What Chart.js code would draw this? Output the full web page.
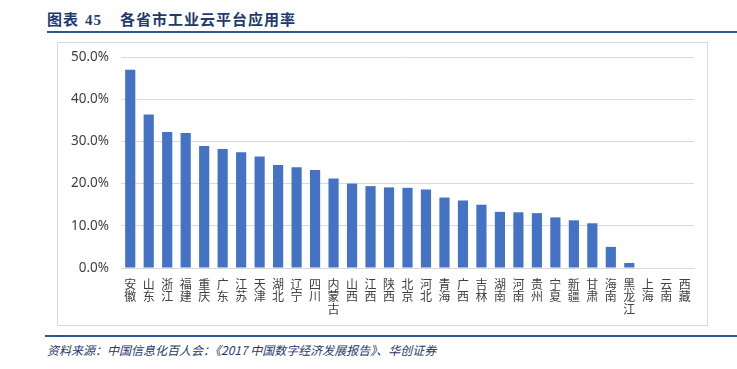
<!DOCTYPE html>
<html>
<head>
<meta charset="utf-8">
<script src="https://cdn.jsdelivr.net/npm/chart.js@4"></script>
<style>
  body { margin: 0; background: #fff; width: 737px; height: 369px; position: relative; overflow: hidden; }
  #title { position: absolute; left: 47px; top: 8px; font: bold 15px "Noto Sans CJK SC", serif; color: #1f3a6e; letter-spacing: 1px; white-space: nowrap; }
  #title .num { font-family: "Liberation Serif", serif; margin: 0 18px 0 6px; }
  #topline { position: absolute; left: 47px; right: 0; top: 31px; height: 2px; background: #2e5597; }
  #box { position: absolute; left: 57px; top: 42px; width: 649px; height: 282px; border: 1px solid #d9d9d9; }
  #bottomline { position: absolute; left: 45px; right: 0; top: 335px; height: 2px; background: #2e5597; }
  #source { position: absolute; left: 47px; top: 341px; font: italic 12px "Noto Sans CJK SC", sans-serif; color: #1f3a6e; white-space: nowrap; }
</style>
</head>
<body>
<div id="title">图表<span class="num">45</span>各省市工业云平台应用率</div>
<div id="topline"></div>
<div id="box"><canvas id="chart"></canvas></div>
<div id="bottomline"></div>
<div id="source">资料来源：中国信息化百人会：《2017 中国数字经济发展报告》、华创证券</div>
<script>
// provinces, sorted by rate
const provinces = ['安徽', '山东', '浙江', '福建', '重庆', '广东', '江苏', '天津', '湖北', '辽宁',
  '四川', '内蒙古', '山西', '江西', '陕西', '北京', '河北', '青海', '广西', '吉林',
  '湖南', '河南', '贵州', '宁夏', '新疆', '甘肃', '海南', '黑龙江', '上海', '云南', '西藏'];
// application rate, %
const rates = [47.0, 36.4, 32.2, 32.0, 28.9, 28.2, 27.4, 26.4, 24.4, 23.9,
  23.2, 21.2, 20.0, 19.4, 19.1, 19.0, 18.6, 16.7, 16.0, 15.0,
  13.3, 13.2, 13.0, 12.0, 11.3, 10.6, 5.0, 1.2, 0, 0, 0];
const yTicks = [0, 10, 20, 30, 40, 50];

const ctx = document.getElementById('chart');
ctx.width = 649;
ctx.height = 282;

new Chart(ctx, {
  type: 'bar',
  data: {
    labels: provinces.map((p) => p.split('')), // one character per line, vertical text
    datasets: [
      {
        data: rates,
        backgroundColor: '#4472c4',
        categoryPercentage: 1,
        barPercentage: 0.55,
      },
    ],
  },
  options: {
    responsive: false,
    animation: false,
    layout: { padding: { top: 0, right: 13, left: 0, bottom: 0 } },
    plugins: { legend: { display: false }, tooltip: { enabled: false } },
    scales: {
      x: {
        grid: { display: false },
        border: { color: '#d9d9d9' },
        ticks: {
          color: '#404040',
          font: { family: '"Noto Sans CJK SC"', size: 12, lineHeight: 1.05 },
          padding: 2,
          maxRotation: 0,
          autoSkip: false,
        },
        afterFit: (scale) => { scale.height = 57; },
      },
      y: {
        min: 0,
        max: 50,
        afterBuildTicks: (scale) => { scale.ticks = yTicks.map((v) => ({ value: v })); },
        grid: { color: '#d9d9d9', drawTicks: false },
        border: { display: false },
        ticks: {
          color: '#404040',
          font: { family: '"Noto Sans"', size: 13.5 },
          padding: 12,
          callback: (v) => v.toFixed(1) + '%',
        },
        afterFit: (scale) => {
          scale.width = 63;
          scale.paddingTop = 14; // put the 50% line where the reference has it
          scale.paddingBottom = 0;
        },
      },
    },
  },
});
</script>
</body>
</html>
